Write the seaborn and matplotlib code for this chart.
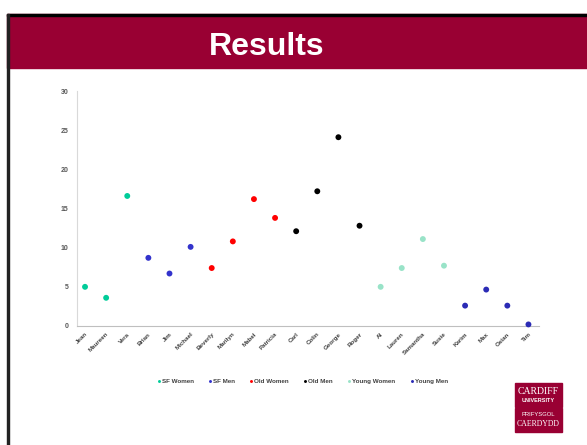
import numpy as np
import pandas as pd
import matplotlib
matplotlib.use('Agg')
import matplotlib.pyplot as plt
from matplotlib.patches import Rectangle
import seaborn as sns

names = ['Jean', 'Maureen', 'Vera', 'Brian', 'Jim', 'Michael', 'Beverly', 'Marilyn',
         'Mabel', 'Patricia', 'Carl', 'Colin', 'George', 'Roger', 'Al', 'Lauren',
         'Samantha', 'Susie', 'Karim', 'Max', 'Osian', 'Tim']
groups = ['SF Women'] * 3 + ['SF Men'] * 3 + ['Old Women'] * 4 + ['Old Men'] * 4 + \
         ['Young Women'] * 4 + ['Young Men'] * 4
values = [5.0, 3.6, 16.6, 8.7, 6.7, 10.1, 7.4, 10.8, 16.2, 13.8, 12.1, 17.2, 24.1, 12.8,
          5.0, 7.4, 11.1, 7.7, 2.6, 4.65, 2.6, 0.2]
group_order = ['SF Women', 'SF Men', 'Old Women', 'Old Men', 'Young Women', 'Young Men']
group_colors = ['#00CC99', '#3333CC', '#FF0000', '#000000', '#99E3C8', '#2B2BB5']

df = pd.DataFrame({'name': names, 'group': groups, 'value': values})
df['pos'] = np.arange(len(df))

sns.set_style('white')
plt.rcParams['font.family'] = ['Liberation Sans', 'DejaVu Sans']

W, H = 587, 445
fig = plt.figure(figsize=(W / 100, H / 100), dpi=100)

# slide decoration: border + title band
fig.patches.append(Rectangle((0, 0), 1, 1, transform=fig.transFigure, color='white', zorder=-5))
fig.patches.append(Rectangle((7 / W, 1 - 68 / H), 1, 54 / H, transform=fig.transFigure,
                             color='#990033', zorder=0))
fig.patches.append(Rectangle((7 / W, 1 - 16 / H), 1, 2 / H, transform=fig.transFigure,
                             color='black', zorder=1))
fig.patches.append(Rectangle((7 / W, 0), 2 / W, 1 - 14 / H, transform=fig.transFigure,
                             color='#222222', zorder=1))
fig.text(267 / W, 1 - 47 / H, 'Results', color='white', fontsize=23, fontweight='bold',
         ha='center', va='center')

# logo
fig.patches.append(Rectangle((515 / W, 1 - 407 / H), 47 / W, 24 / H, transform=fig.transFigure,
                             color='#990033'))
fig.patches.append(Rectangle((515 / W, 1 - 432 / H), 47 / W, 24 / H, transform=fig.transFigure,
                             color='#990033'))
fig.text(538.5 / W, 1 - 391 / H, 'CARDIFF', color='white', fontsize=7, family='Liberation Serif',
         ha='center', va='center')
fig.text(538.5 / W, 1 - 401 / H, 'UNIVERSITY', color='white', fontsize=4, fontweight='bold',
         family='Liberation Sans', ha='center', va='center')
fig.text(538.5 / W, 1 - 414 / H, 'PRIFYSGOL', color='white', fontsize=4.2, family='Liberation Sans',
         ha='center', va='center')
fig.text(538.5 / W, 1 - 424 / H, 'CAERDYDD', color='white', fontsize=5.6, family='Liberation Serif',
         ha='center', va='center')

ax = fig.add_axes([77 / W, 1 - 326 / H, (539 - 77) / W, (326 - 91) / H])
sns.scatterplot(data=df, x='pos', y='value', hue='group', hue_order=group_order,
                palette=group_colors, s=18, linewidth=0, ax=ax, zorder=3, clip_on=False)

ax.set_xlim(-0.38, 21.5)
ax.set_ylim(0, 30)
ax.set_yticks(range(0, 31, 5))
ax.set_xticks(df['pos'])
ax.set_xticklabels(names, rotation=45, ha='right', rotation_mode='anchor',
                   fontsize=4.5, color='#404040', fontweight='bold')
for lab in ax.get_yticklabels():
    lab.set_fontsize(5)
    lab.set_fontweight('bold')
    lab.set_color('#595959')
ax.tick_params(axis='y', length=0, pad=6)
ax.tick_params(axis='x', length=0, pad=4)
ax.set_xlabel('')
ax.set_ylabel('')
for side in ['top', 'right']:
    ax.spines[side].set_visible(False)
ax.spines['left'].set_color('#D9D9D9')
ax.spines['bottom'].set_color('#BFBFBF')
ax.spines['left'].set_linewidth(0.8)
ax.spines['bottom'].set_linewidth(0.8)

handles, labels = ax.get_legend_handles_labels()
leg = ax.legend(handles, labels, loc='center', bbox_to_anchor=(302 / W, 1 - 381 / H),
                bbox_transform=fig.transFigure, ncol=6, frameon=False, fontsize=4.5,
                markerscale=0.5, handletextpad=0.1, columnspacing=2.2, handlelength=0.8,
                labelcolor='#404040')
for t in leg.get_texts():
    t.set_fontweight('bold')

fig.savefig('out.png', dpi=100)
